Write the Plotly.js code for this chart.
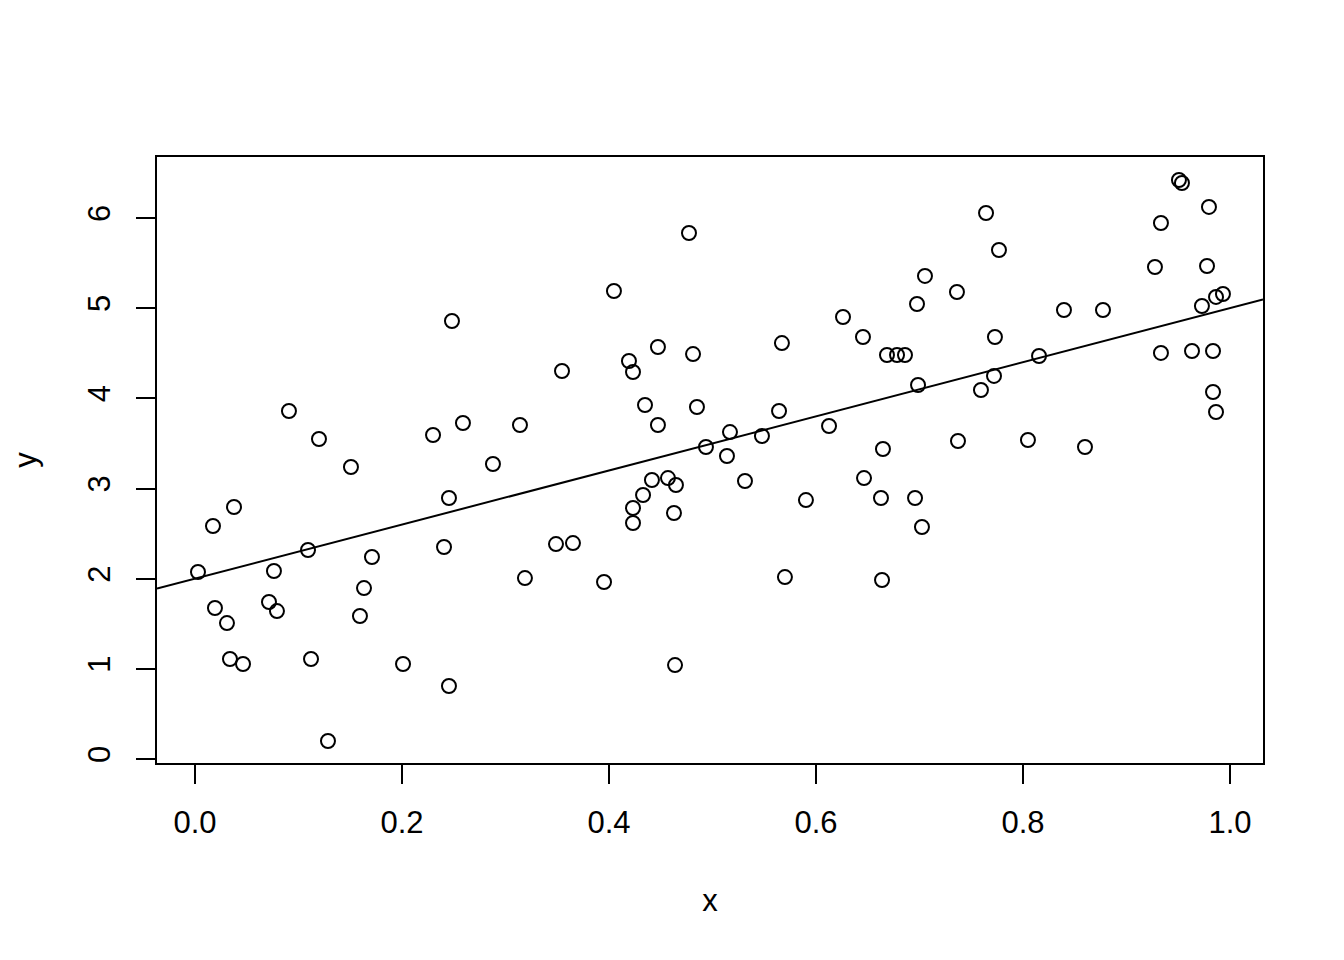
<!DOCTYPE html>
<html>
<head>
<meta charset="utf-8">
<script src="https://cdn.plot.ly/plotly-3.0.1.min.js"></script>
<style>html,body{margin:0;padding:0;background:#fff;}#chart{width:1344px;height:960px;}</style>
</head>
<body>
<div id="chart"></div>
<script>
const xVals = [0.0029,0.0174,0.0193,0.0309,0.0338,0.0377,0.0464,0.0715,0.0763,0.0792,
0.0908,0.1092,0.1121,0.1198,0.1285,0.1507,0.1594,0.1633,0.1710,0.2010,
0.2300,0.2406,0.2454,0.2454,0.2483,0.2589,0.2879,0.3140,0.3188,0.3488,
0.3546,0.3652,0.3952,0.4048,0.4193,0.4232,0.4232,0.4232,0.4329,0.4348,
0.4415,0.4473,0.4473,0.4570,0.4628,0.4647,0.4638,0.4773,0.4812,0.4850,
0.4937,0.5140,0.5169,0.5314,0.5478,0.5643,0.5671,0.5700,0.5903,0.6126,
0.6261,0.6454,0.6464,0.6628,0.6638,0.6647,0.6686,0.6783,0.6860,0.6957,
0.6976,0.6986,0.7024,0.7053,0.7362,0.7372,0.7594,0.7643,0.7720,0.7729,
0.7768,0.8048,0.8155,0.8396,0.8599,0.8773,0.9275,0.9333,0.9333,0.9507,
0.9536,0.9633,0.9729,0.9778,0.9797,0.9836,0.9836,0.9865,0.9865,0.9932];
const yVals = [2.074,2.584,1.675,1.508,1.109,2.795,1.054,1.741,2.085,1.641,
3.859,2.318,1.109,3.549,0.200,3.238,1.586,1.896,2.240,1.054,
3.593,2.351,0.810,2.895,4.857,3.726,3.272,3.704,2.007,2.384,
4.303,2.395,1.963,5.190,4.414,4.292,2.784,2.617,2.928,3.926,
3.094,4.569,3.704,3.116,2.728,3.039,1.042,5.833,4.491,3.904,
3.460,3.360,3.626,3.083,3.582,3.859,4.613,2.018,2.872,3.693,
4.902,4.680,3.116,2.895,1.985,3.438,4.480,4.480,4.480,2.895,
5.046,4.148,2.573,5.357,5.179,3.527,4.092,6.055,4.248,4.680,
5.645,3.538,4.469,4.979,3.460,4.979,5.456,4.503,5.944,6.421,
6.388,4.525,5.024,5.467,6.122,4.525,4.070,5.124,3.848,5.157];
const xTicks = [0, 0.2, 0.4, 0.6, 0.8, 1.0];
const xTickLabels = ["0.0", "0.2", "0.4", "0.6", "0.8", "1.0"];
const yTicks = [0, 1, 2, 3, 4, 5, 6];
const yTickLabels = ["0", "1", "2", "3", "4", "5", "6"];
// reference line drawn with abline(a, b)
const lineIntercept = 2;
const lineSlope = 3;

const xRange = [-0.0367, 1.0319];
const yRange = [-0.044, 6.676];
const lineX = xRange;
const lineY = lineX.map(v => lineIntercept + lineSlope*v);

const font = {family: "Liberation Sans, Arial, Helvetica, sans-serif", size: 31, color: "#000"};

const traces = [
  {x: xVals, y: yVals, type: "scatter", mode: "markers",
   marker: {symbol: "circle-open", size: 14, color: "#000", line: {width: 2, color: "#000"}},
   hoverinfo: "x+y", showlegend: false, cliponaxis: false},
  {x: lineX, y: lineY, type: "scatter", mode: "lines",
   line: {color: "#000", width: 2}, showlegend: false, hoverinfo: "skip"}
];

const layout = {
  width: 1344, height: 960,
  margin: {l: 157, r: 81, t: 157, b: 197, pad: 0},
  paper_bgcolor: "#fff", plot_bgcolor: "#fff",
  font: font,
  showlegend: false,
  xaxis: {range: xRange, tickmode: "array", tickvals: xTicks, ticktext: xTickLabels,
          ticks: "outside", ticklen: 19, tickwidth: 2, tickcolor: "#000",
          ticklabelstandoff: 12,
          showline: true, mirror: true, linewidth: 2, linecolor: "#000",
          showgrid: false, zeroline: false, tickfont: font,
          title: {text: "x", font: font, standoff: 50}},
  yaxis: {range: yRange, tickmode: "array", tickvals: yTicks, ticktext: yTickLabels,
          ticks: "outside", ticklen: 19, tickwidth: 2, tickcolor: "#000", tickangle: -90,
          ticklabelstandoff: 14,
          showline: true, mirror: true, linewidth: 2, linecolor: "#000",
          showgrid: false, zeroline: false, tickfont: font,
          title: {text: "y", font: font, standoff: 36}}
};

Plotly.newPlot("chart", traces, layout, {staticPlot: true, displayModeBar: false});
</script>
</body>
</html>
